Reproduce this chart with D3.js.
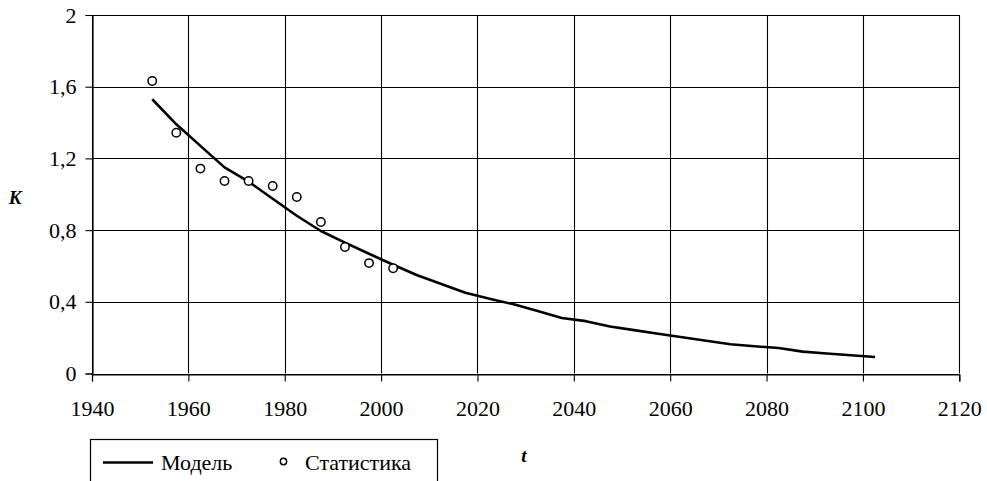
<!DOCTYPE html>
<html>
<head>
<meta charset="utf-8">
<script src="https://cdn.jsdelivr.net/npm/d3@7"></script>
<style>
  html, body { margin: 0; padding: 0; background: #fff; }
  svg { display: block; }
  text { font-family: 'Liberation Serif' !important; }
</style>
</head>
<body>
<svg id="chart" width="987" height="481" style="font-family: 'Liberation Serif'"></svg>
<script>
// ---- data ----
const modelYears = [1952.5, 1957.5, 1962.5, 1967.5, 1972.5, 1977.5, 1982.5, 1987.5, 1992.5, 1997.5,
  2002.5, 2007.5, 2012.5, 2017.5, 2022.5, 2027.5, 2032.5, 2037.5, 2042.5, 2047.5,
  2052.5, 2057.5, 2062.5, 2067.5, 2072.5, 2077.5, 2082.5, 2087.5, 2092.5, 2097.5, 2102.5];
const modelValues = [1.53, 1.39, 1.27, 1.15, 1.07, 0.975, 0.88, 0.795, 0.73, 0.668,
  0.607, 0.548, 0.499, 0.45, 0.417, 0.386, 0.349, 0.31, 0.292, 0.262,
  0.242, 0.222, 0.202, 0.183, 0.163, 0.152, 0.142, 0.122, 0.112, 0.102, 0.092];
const statYears = [1952.5, 1957.5, 1962.5, 1967.5, 1972.5, 1977.5, 1982.5, 1987.5, 1992.5, 1997.5, 2002.5];
const statValues = [1.632, 1.343, 1.143, 1.074, 1.074, 1.046, 0.985, 0.845, 0.706, 0.616, 0.587];
const xTicks = [1940, 1960, 1980, 2000, 2020, 2040, 2060, 2080, 2100, 2120];
const yTicks = [0, 0.4, 0.8, 1.2, 1.6, 2];
const seriesNames = ["Модель", "Статистика"];
const xTitle = "t";
const yTitle = "K";

// ---- chart ----
const FONT = "Liberation Serif";
const svg = d3.select("#chart");
const x = d3.scaleLinear().domain([1940, 2120]).range([92, 959.3]);
const y = d3.scaleLinear().domain([0, 2]).range([373.5, 15]);
const ru = d3.formatLocale({decimal: ",", thousands: "\u00a0", grouping: [3], currency: ["", ""]});
const yFmt = ru.format("~g");

// gridlines
const grid = svg.append("g");
grid.selectAll("line.v").data(xTicks).join("line")
  .attr("x1", d => Math.round(x(d)) + 0.5).attr("x2", d => Math.round(x(d)) + 0.5)
  .attr("y1", y(2)).attr("y2", y(0))
  .attr("stroke", "#000").attr("stroke-width", 1.1);
grid.selectAll("line.h").data(yTicks).join("line")
  .attr("y1", d => Math.round(y(d)) + 0.5).attr("y2", d => Math.round(y(d)) + 0.5)
  .attr("x1", x(1940)).attr("x2", x(2120))
  .attr("stroke", "#000").attr("stroke-width", 1.1);

// axes
const xAxis = svg.append("g").attr("transform", `translate(0,${Math.round(y(0)) + 0.5})`)
  .call(d3.axisBottom(x).tickValues(xTicks).tickFormat(d3.format("d")).tickSize(7).tickPadding(19));
const yAxis = svg.append("g").attr("transform", `translate(${Math.round(x(1940)) + 0.5},0)`)
  .call(d3.axisLeft(y).tickValues(yTicks).tickFormat(yFmt).tickSize(7).tickPadding(9));
[xAxis, yAxis].forEach(a => {
  a.attr("font-family", FONT).attr("font-size", 22);
  a.select(".domain").attr("stroke", "#000").attr("stroke-width", 1.2);
  a.selectAll(".tick line").attr("stroke", "#000").attr("stroke-width", 1.1);
  a.selectAll(".tick text").attr("fill", "#000")
    .attr("font-family", FONT).attr("font-size", 22);
});

// model line
const line = d3.line().x((d, i) => x(modelYears[i])).y(d => y(d));
svg.append("path").datum(modelValues)
  .attr("d", line).attr("fill", "none").attr("stroke", "#000")
  .attr("stroke-width", 2.6).attr("stroke-linejoin", "round");

// statistics points
svg.append("g").selectAll("circle").data(statValues).join("circle")
  .attr("cx", (d, i) => x(statYears[i])).attr("cy", d => y(d))
  .attr("r", 4.2).attr("fill", "#fff").attr("stroke", "#000").attr("stroke-width", 1.5);

// axis titles
svg.append("text").text(yTitle).attr("x", 15).attr("y", 204)
  .attr("text-anchor", "middle").attr("font-family", FONT).attr("font-size", 19)
  .attr("font-weight", "bold").attr("font-style", "italic");
svg.append("text").text(xTitle).attr("x", 524).attr("y", 461.5)
  .attr("text-anchor", "middle").attr("font-family", FONT).attr("font-size", 19)
  .attr("font-weight", "bold").attr("font-style", "italic");

// legend
const lg = svg.append("g");
lg.append("rect").attr("x", 90.5).attr("y", 439.5).attr("width", 347).attr("height", 60)
  .attr("fill", "#fff").attr("stroke", "#000").attr("stroke-width", 1.2);
lg.append("line").attr("x1", 103).attr("x2", 153).attr("y1", 462.5).attr("y2", 462.5)
  .attr("stroke", "#000").attr("stroke-width", 2.6);
lg.append("text").text(seriesNames[0]).attr("x", 161).attr("y", 470)
  .attr("font-family", FONT).attr("font-size", 22);
lg.append("circle").attr("cx", 283.5).attr("cy", 461.5).attr("r", 3.2)
  .attr("fill", "#fff").attr("stroke", "#000").attr("stroke-width", 1.4);
lg.append("text").text(seriesNames[1]).attr("x", 305).attr("y", 470)
  .attr("font-family", FONT).attr("font-size", 22);
</script>
</body>
</html>
